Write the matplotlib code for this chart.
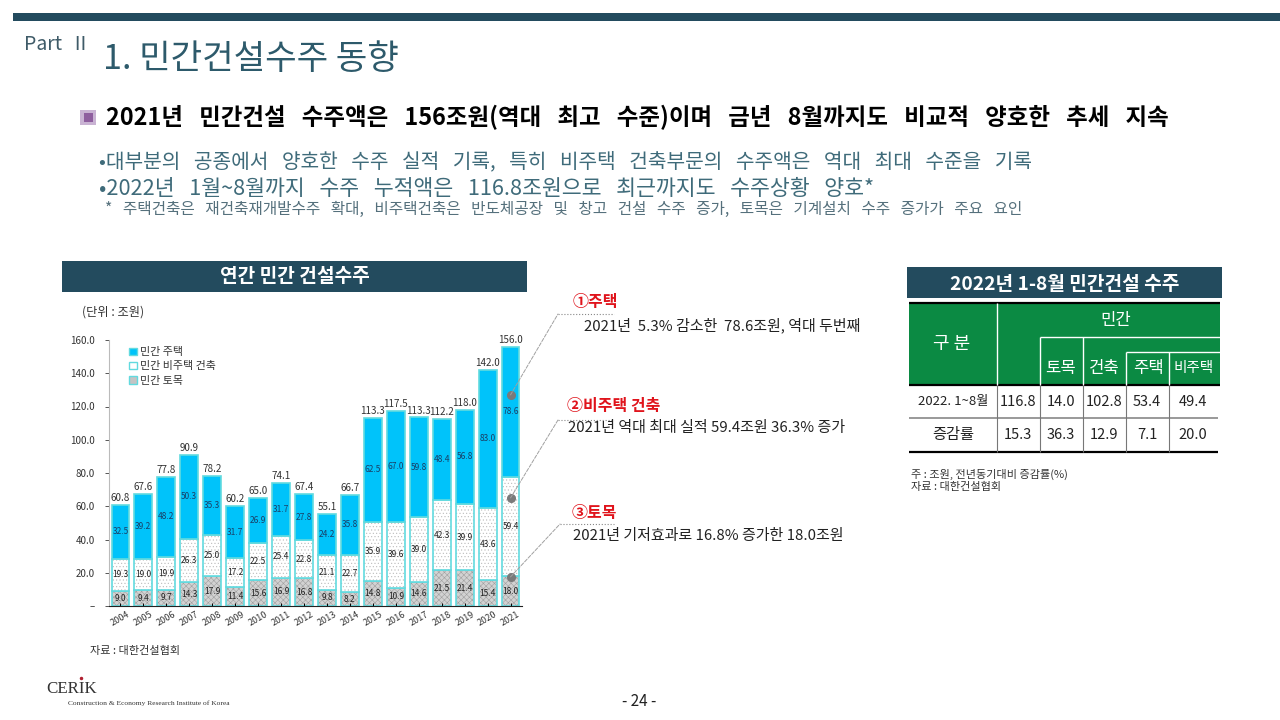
#-*- coding: utf-8 -*-
import matplotlib
matplotlib.use('Agg')
from matplotlib import pyplot as plt
from matplotlib.patches import Rectangle, Patch, ConnectionPatch

plt.rcParams['font.family'] = ['Noto Sans CJK KR', 'DejaVu Sans']
plt.rcParams['hatch.linewidth'] = 0.4

# chart data
years = ['2004','2005','2006','2007','2008','2009','2010','2011','2012','2013',
         '2014','2015','2016','2017','2018','2019','2020','2021']
civil = [9.0,9.4,9.7,14.3,17.9,11.4,15.6,16.9,16.8,9.8,8.2,14.8,10.9,14.6,21.5,21.4,15.4,18.0]
nonres = [19.3,19.0,19.9,26.3,25.0,17.2,22.5,25.4,22.8,21.1,22.7,35.9,39.6,39.0,42.3,39.9,43.6,59.4]
housing = [32.5,39.2,48.2,50.3,35.3,31.7,26.9,31.7,27.8,24.2,35.8,62.5,67.0,59.8,48.4,56.8,83.0,78.6]
totals = [60.8,67.6,77.8,90.9,78.2,60.2,65.0,74.1,67.4,55.1,66.7,113.3,117.5,113.3,112.2,118.0,142.0,156.0]
yticks = [0,20,40,60,80,100,120,140,160]

# table data
row1 = ['2022. 1~8월','116.8','14.0','102.8','53.4','49.4']
row2 = ['증감률','15.3','36.3','12.9','7.1','20.0']

navy = '#234B5E'
green = '#0B8A43'
sky = '#00C3FA'
cyan = '#62DADF'

fig = plt.figure(figsize=(12.8,7.2), dpi=100, facecolor='white')

# whole slide in pixel coordinates
over = fig.add_axes([0,0,1,1])
over.set_xlim(0,1280)
over.set_ylim(720,0)
over.axis('off')

def txt(x, y, s, size, color='black', ha='left', weight='normal', **kw):
    over.text(x, y, s, fontsize=size, color=color, ha=ha, va='center', fontweight=weight, **kw)

def box(x0, y0, x1, y1, color):
    over.add_patch(Rectangle((x0,y0), x1-x0, y1-y0, facecolor=color, edgecolor='none'))

def line(x0, y0, x1, y1, color='white', lw=1.0, **kw):
    over.plot([x0,x1], [y0,y1], color=color, lw=lw, solid_capstyle='butt', **kw)

# header
box(13,13,1280,21,navy)
txt(24,44,'Part  Ⅱ',14,'#3F5B68')
txt(103,60,'1. 민간건설수주 동향',24.7,'#2D5A6B')
box(80,110,96,125,'#C9B3D3')
box(84,113,93,122,'#8E5E9E')
txt(106,117,'2021년   민간건설   수주액은   156조원(역대   최고   수준)이며   금년   8월까지도   비교적   양호한   추세   지속',16.9,'black',weight='bold')
txt(99,162,'•대부분의   공종에서   양호한   수주   실적   기록,   특히   비주택   건축부문의   수주액은   역대   최대   수준을   기록',14.6,'#3F6B7A')
txt(99,189,'•2022년   1월~8월까지   수주   누적액은   116.8조원으로   최근까지도   수주상황   양호*',15.6,'#3F6B7A')
txt(105,209,'*   주택건축은   재건축재개발수주   확대,   비주택건축은   반도체공장   및   창고   건설   수주   증가,   토목은   기계설치   수주   증가가   주요   요인',11.3,'#55707C')

# chart title
box(62,261,527,292,navy)
txt(294.5,277,'연간 민간 건설수주',13.8,'white',ha='center',weight='bold')
txt(82,312,'(단위 : 조원)',8.8,'#333333')
txt(90,651,'자료 : 대한건설협회',8,'#333333')

# stacked bars
ax = fig.add_axes([109/1280, (720-606)/720, (522-109)/1280, 266/720])
ax.patch.set_alpha(0)
x = list(range(len(years)))
bottom2 = [a+b for a,b in zip(civil,nonres)]
ax.bar(x, civil, width=0.78, color='#D2D2D2', edgecolor='#A0A0A0', lw=0, hatch='xxxxxx')
ax.bar(x, civil, width=0.78, color='none', edgecolor=cyan, lw=1.2)
ax.bar(x, nonres, width=0.78, bottom=civil, color='white', edgecolor='#BBBBBB', lw=0, hatch='.....')
ax.bar(x, nonres, width=0.78, bottom=civil, color='none', edgecolor=cyan, lw=1.2)
ax.bar(x, housing, width=0.78, bottom=bottom2, color=sky, edgecolor=cyan, lw=1.2)

for i in x:
    ax.text(i, civil[i]/2, '%.1f' % civil[i], ha='center', va='center', fontsize=6, color='#222222')
    ax.text(i, civil[i]+nonres[i]/2, '%.1f' % nonres[i], ha='center', va='center', fontsize=6, color='#222222')
    ax.text(i, bottom2[i]+housing[i]/2, '%.1f' % housing[i], ha='center', va='center', fontsize=6, color='#1A3F66')
    ax.text(i, totals[i]+1.2, '%.1f' % totals[i], ha='center', va='bottom', fontsize=7.1, color='#333333')

ax.set_xlim(-0.5,17.5)
ax.set_ylim(0,160)
ax.set_yticks(yticks)
ax.set_yticklabels(['–' if v==0 else '%.1f' % v for v in yticks], fontsize=7, color='#333333')
ax.set_xticks(x)
ax.set_xticklabels(years, rotation=30, fontsize=6.5, color='#333333')
ax.tick_params(axis='y', length=3, width=0.7, direction='out', pad=7, color='#555555')
ax.tick_params(axis='x', length=2, width=0.7, direction='in', pad=3)
ax.spines['top'].set_visible(False)
ax.spines['right'].set_visible(False)
ax.spines['left'].set_color('#BBBBBB')
ax.spines['bottom'].set_color('#222222')

handles = [Patch(facecolor=sky, edgecolor=cyan, label='민간 주택'),
           Patch(facecolor='white', edgecolor=cyan, label='민간 비주택 건축'),
           Patch(facecolor='#C4C4C4', edgecolor=cyan, label='민간 토목')]
ax.legend(handles=handles, loc='upper left', bbox_to_anchor=(0.025,1.01), frameon=False, fontsize=7.9,
          handlelength=0.7, handleheight=0.7, handletextpad=0.3, labelspacing=0.38, labelcolor='#333333')

# callouts, leaders start from the 2021 bar
dots = [(127,558,314,'①주택',573,302,'2021년  5.3% 감소한  78.6조원, 역대 두번째',584,325),
        (65,558,420,'②비주택 건축',567,406,'2021년 역대 최대 실적 59.4조원 36.3% 증가',568,428),
        (17.5,560,524,'③토목',572,513,'2021년 기저효과로 16.8% 증가한 18.0조원',573,536)]
for val, lx, ly, head, hx, hy, body, bx, by in dots:
    ax.plot(17, val, 'o', color='#7A7A7A', ms=5.5, zorder=6, clip_on=False)
    fig.add_artist(ConnectionPatch(xyA=(17,val), coordsA=ax.transData, xyB=(lx,ly), coordsB=over.transData,
                                   color='#A0A0A0', lw=0.7, ls='--'))
    line(lx, ly, 614, ly, '#888888', 0.8, ls=':')
    txt(hx, hy, head, 11.5, '#E0141C', weight='bold')
    txt(bx, by, body, 10.8, '#222222')

# table
box(907,267,1222,298,navy)
txt(1064.5,284,'2022년 1-8월 민간건설 수주',13.8,'white',ha='center',weight='bold')
box(909,303,1220,385,green)
line(909,303,1220,303,'black',1.6)
line(909,385,1220,385,'black',1.6)
line(909,452,1218,452,'black',1.6)
line(909,418,1218,418,'#999999',1.4)
cols = [909,997,1040,1083,1126,1169,1220]
for c in cols[1:6]:
    line(c,385,c,452,'#777777',0.8)
line(997,303,997,385)
line(1040,337,1040,385)
line(1083,337,1083,385)
line(1126,352,1126,385)
line(1169,352,1169,385)
line(1040,337,1220,337)
line(1126,352,1220,352)
txt(952,344,'구 분',13,'white',ha='center')
txt(1116,320,'민간',12,'white',ha='center')
for cx, s, fs in [(1061,'토목',12),(1104,'건축',12),(1148,'주택',12),(1194,'비주택',10.5)]:
    txt(cx,368,s,fs,'white',ha='center')
centers = [953,1018,1061,1104,1147,1193]
sizes = [9.5,10.5,10.5,10.5,10.5,10.5]
for c, fs, a, b in zip(centers,sizes,row1,row2):
    txt(c,402,a,fs,'#222222',ha='center')
    txt(c,435,b,11 if b=='증감률' else fs,'#222222',ha='center')
txt(911,474,'주 : 조원, 전년동기대비 증감률(%)',8,'#333333')
txt(911,487,'자료 : 대한건설협회',8,'#333333')

# footer
over.text(46,689,'CERIK',fontsize=12.2,family='Liberation Serif',color='#333333',va='center')
over.plot([81],[678],'o',color='#B02030',ms=1.5)
over.text(68,703,'Construction & Economy Research Institute of Korea',fontsize=5.4,family='Liberation Serif',color='#333333',va='center')
txt(639,701,'- 24 -',11,'#222222',ha='center')

fig.savefig('out.png', dpi=100)
